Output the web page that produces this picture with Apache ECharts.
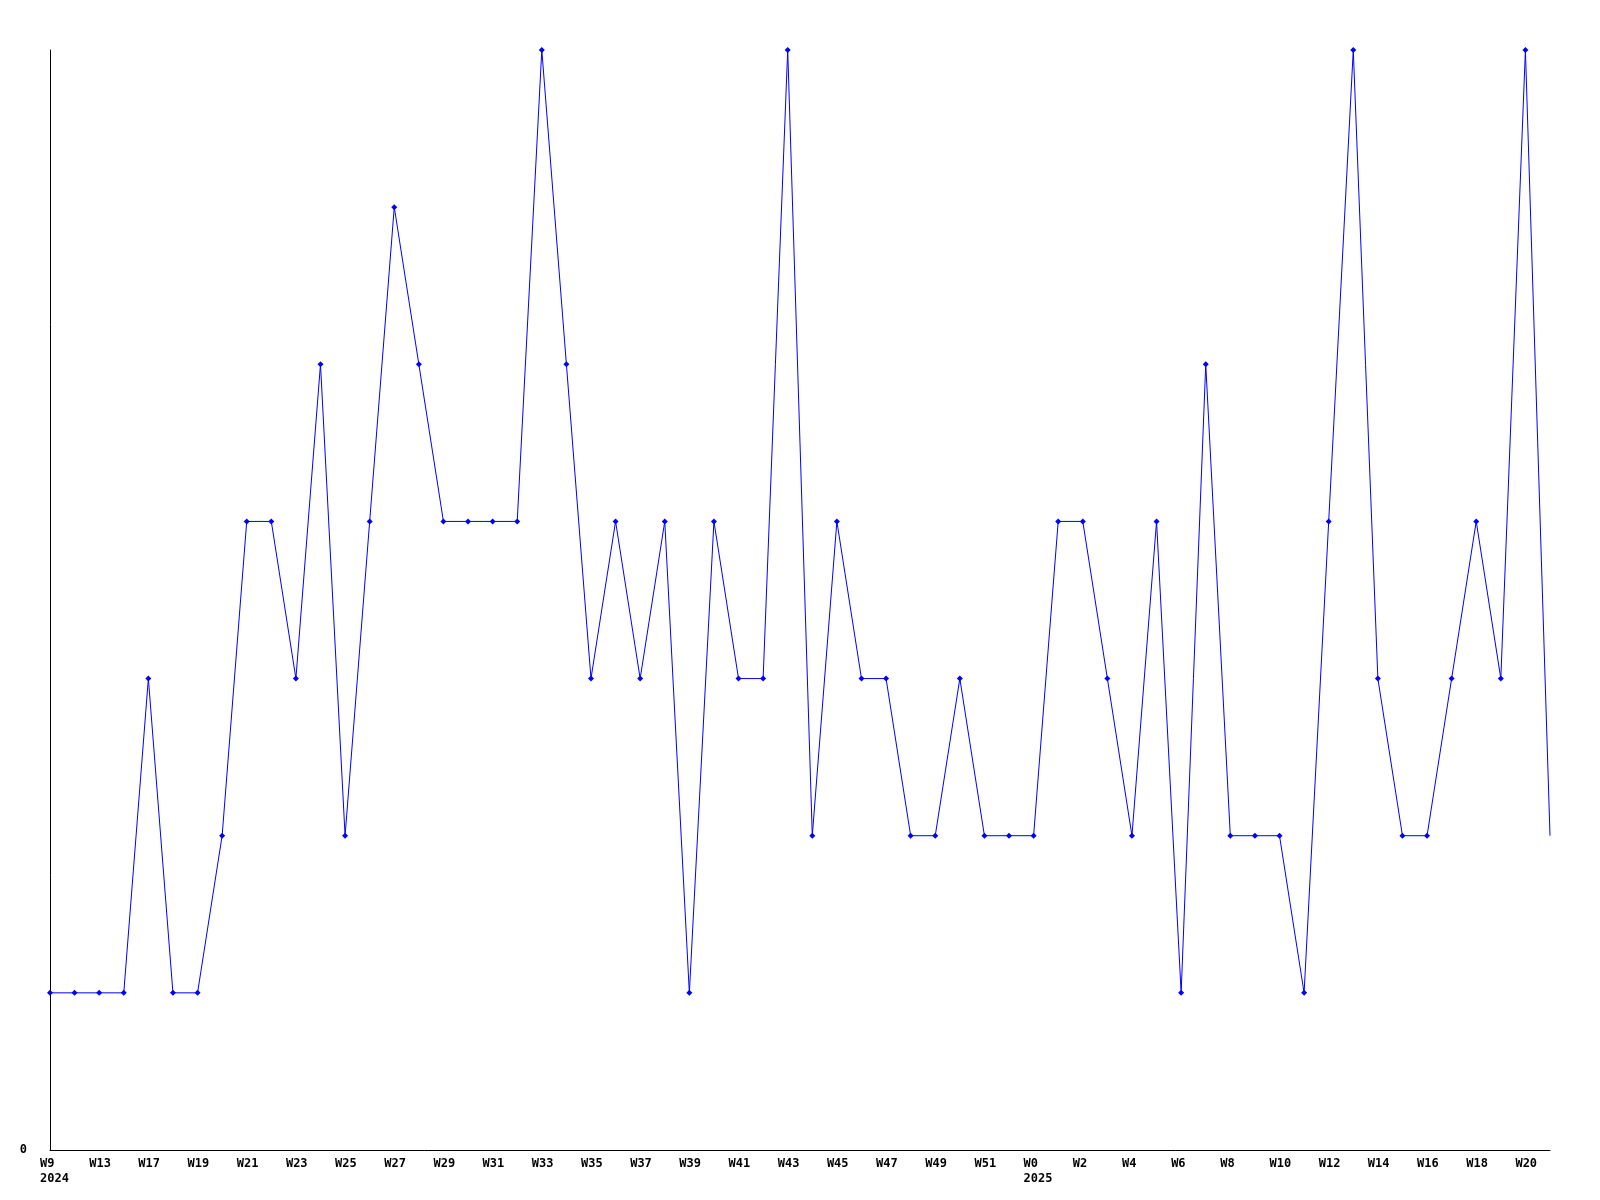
<!DOCTYPE html>
<html>
<head>
<meta charset="utf-8">
<script src="https://cdn.jsdelivr.net/npm/echarts@6/dist/echarts.min.js"></script>
<style>
html,body{margin:0;padding:0;background:#fff;}
#chart{width:1600px;height:1200px;}
</style>
</head>
<body>
<div id="chart"></div>
<script>
const weeks = ["W9\n2024","W11","W13","W15","W17","W18","W19","W20","W21","W22","W23","W24","W25","W26","W27","W28","W29","W30","W31","W32","W33","W34","W35","W36","W37","W38","W39","W40","W41","W42","W43","W44","W45","W46","W47","W48","W49","W50","W51","W52","W0\n2025","W1","W2","W3","W4","W5","W6","W7","W8","W9","W10","W11","W12","W13","W14","W15","W16","W17","W18","W19","W20","W21"];
const counts = [1,1,1,1,3,1,1,2,4,4,3,5,2,4,6,5,4,4,4,4,7,5,3,4,3,4,1,4,3,3,7,2,4,3,3,2,2,3,2,2,2,4,4,3,2,4,1,5,2,2,2,1,4,7,3,2,2,3,4,3,7,2];
const yTicks = [0];

const chart = echarts.init(document.getElementById('chart'));
const font = 'DejaVu Sans Mono';
const seriesData = counts.map((v, i) => i === counts.length - 1 ? {value: v, symbol: 'none'} : v);

chart.setOption({
  animation: false,
  backgroundColor: '#ffffff',
  grid: {left: 50, right: 50, top: 50, bottom: 50, containLabel: false},
  xAxis: {
    type: 'category',
    data: weeks,
    boundaryGap: false,
    axisLine: {show: true, lineStyle: {color: '#000', width: 1}},
    axisTick: {show: false},
    splitLine: {show: false},
    axisLabel: {
      interval: 1,
      margin: 6,
      formatter: function (v) {
        return v.split('\n').map(s => '{a|' + s + '}').join('\n');
      },
      rich: {
        a: {width: 20, align: 'left', fontFamily: font, fontWeight: 'bold', fontSize: 12, color: '#000', lineHeight: 15}
      }
    }
  },
  yAxis: {
    type: 'value',
    min: 0,
    max: 7,
    interval: 7,
    axisLine: {show: true, lineStyle: {color: '#000', width: 1}},
    axisTick: {show: false},
    splitLine: {show: false},
    axisLabel: {
      margin: 23,
      fontFamily: font,
      fontWeight: 'bold',
      fontSize: 12,
      color: '#000',
      formatter: function (v) { return yTicks.indexOf(v) >= 0 ? String(v) : ''; }
    }
  },
  series: [{
    type: 'line',
    data: seriesData,
    symbol: 'diamond',
    symbolSize: 6,
    showAllSymbol: true,
    lineStyle: {color: '#0000ff', width: 1},
    itemStyle: {color: '#0000ff'},
    clip: false
  }]
});
</script>
</body>
</html>
